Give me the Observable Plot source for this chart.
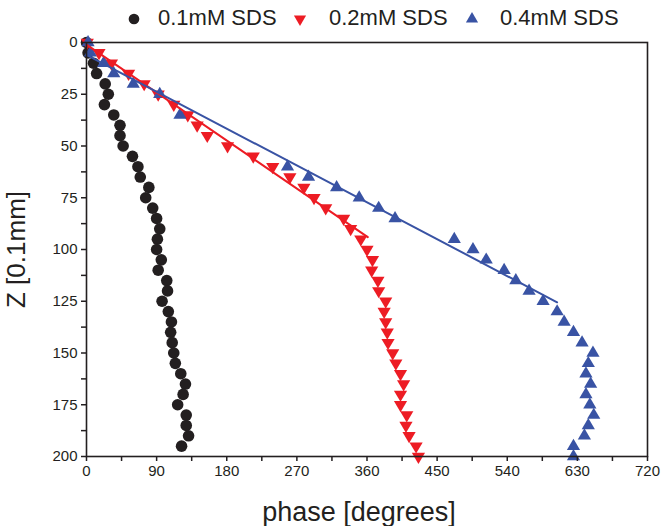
<!DOCTYPE html>
<html><head><meta charset="utf-8">
<script src="https://cdn.jsdelivr.net/npm/d3@7"></script>
<script src="https://cdn.jsdelivr.net/npm/@observablehq/plot@0.6"></script>
<style>
body{margin:0;background:#fff;font-family:"Liberation Sans",Arial,sans-serif;}
#legend{position:relative;height:32px;width:661px;}
.item{position:absolute;top:2px;height:32px;display:flex;align-items:center;font-size:22px;color:#231f20;white-space:nowrap;}
.sym{position:absolute;top:0;}
</style></head><body>
<div id="legend"></div>
<div id="chart"></div>
<script>
// ---- data ----
const seriesNames = ["0.1mM SDS", "0.2mM SDS", "0.4mM SDS"];
const seriesColors = ["#231f20", "#ed1c24", "#3953a4"];

const blackDepth = [0,5,10,15,20,25,30,35,40,45,50,55,60,65,70,75,80,85,90,95,100,105,110,115,120,125,130,135,140,145,150,155,160,165,170,175,180,185,190,195];
const blackPhase = [0,2,9,13,24,28,23,35,43,43,47,59,66,69,80,76,85,90,94,91,90,96,92,103,104,97,105,109,108,110,112,114,121,127,124,117,128,128,131,122];

const redDepth = [0,5,10,15,20,25,30,35,40,45,50,55,60,65,70,75,80,85,90,95,100,105,110,115,120,125,130,135,140,145,150,155,160,165,170,175,180,185,190,195,200];
const redPhase = [1,16,32,54,74,92,112,130,142,155,181,214,239,261,279,292,307,330,339,352,360,367,366,374,375,384,382,384,386,387,393,397,403,407,403,403,411,410,414,423,426];

const blueDepth = [0,5,10,15,20,25,35,60,65,70,75,80,85,95,100,105,110,115,120,125,130,135,140,145,150,155,160,165,170,175,180,185,190,195,200];
const bluePhase = [2,5,22,35,60,94,120,258,285,321,350,375,396,472,496,513,536,551,568,586,604,613,625,636,650,644,641,647,641,646,651,644,639,625,625];

// linear fit endpoints
const redFitPhase = [0, 361];
const redFitDepth = [1, 94];
const blueFitPhase = [0, 604];
const blueFitDepth = [6, 125.5];

const xTicks = [0,45,90,135,180,225,270,315,360,405,450,495,540,585,630,675,720];
const yTicks = [0,12.5,25,37.5,50,62.5,75,87.5,100,112.5,125,137.5,150,162.5,175,187.5,200];

// ---- build rows ----
const rows = (ph, dz) => ph.map((p, i) => ({phase: p, z: dz[i]}));
const blackRows = rows(blackPhase, blackDepth);
const redRows = rows(redPhase, redDepth);
const blueRows = rows(bluePhase, blueDepth);
const redFit = rows(redFitPhase, redFitDepth);
const blueFit = rows(blueFitPhase, blueFitDepth);

// custom triangle symbols
const triUp = {draw(ctx, size) {
  const r = Math.sqrt(size / Math.PI), w = r * 1.18, h = r * 2.0;
  ctx.moveTo(0, -2*h/3); ctx.lineTo(w, h/3); ctx.lineTo(-w, h/3); ctx.closePath();
}};
const triDown = {draw(ctx, size) {
  const r = Math.sqrt(size / Math.PI), w = r * 1.18, h = r * 2.0;
  ctx.moveTo(0, 2*h/3); ctx.lineTo(w, -h/3); ctx.lineTo(-w, -h/3); ctx.closePath();
}};
const symbols = [d3.symbolCircle, triDown, triUp];
const symR = [5.8, 5.6, 5.6];

// ---- legend ----
const legend = d3.select("#legend");
const symX = [134, 300, 472];
const textX = [158, 329, 500];
seriesNames.forEach((name, i) => {
  const s = legend.append("svg").attr("class","sym").attr("width",24).attr("height",36)
    .style("left", (symX[i]-12)+"px");
  s.append("path").attr("transform","translate(12,19)")
    .attr("d", d3.symbol(symbols[i], Math.PI*symR[i]*symR[i]*0.85)()).attr("fill", seriesColors[i]);
  legend.append("div").attr("class","item").style("left", textX[i]+"px").text(name);
});

// ---- chart ----
const chart = Plot.plot({
  width: 661, height: 494,
  marginLeft: 86, marginRight: 14, marginTop: 10, marginBottom: 70,
  x: {domain: [0, 720]},
  y: {domain: [0, 200], reverse: true},
  style: {fontFamily: "'Liberation Sans', Arial, sans-serif", fontSize: "15px", color: "#231f20", background: "white", overflow: "visible"},
  marks: [
    Plot.dot(blackRows, {x: "phase", y: "z", r: symR[0], symbol: d3.symbolCircle, fill: seriesColors[0], stroke: "none"}),
    Plot.dot(redRows, {x: "phase", y: "z", r: symR[1], symbol: triDown, fill: seriesColors[1], stroke: "none"}),
    Plot.dot(blueRows, {x: "phase", y: "z", r: symR[2], symbol: triUp, fill: seriesColors[2], stroke: "none"}),
    Plot.line(redFit, {x: "phase", y: "z", stroke: seriesColors[1], strokeWidth: 2}),
    Plot.line(blueFit, {x: "phase", y: "z", stroke: seriesColors[2], strokeWidth: 2}),
    Plot.frame({stroke: "#231f20", strokeWidth: 1.6}),
    Plot.axisX({ticks: xTicks, tickFormat: d => d % 90 === 0 ? d : "", tickSize: 5, tickPadding: 4, label: null, strokeWidth: 1.5, fontSize: 15}),
    Plot.axisY({ticks: yTicks, tickFormat: d => d % 25 === 0 ? d : "", tickSize: 5, tickPadding: 4, label: null, strokeWidth: 1.5, fontSize: 15}),
    Plot.text(["phase [degrees]"], {frameAnchor: "bottom", textAnchor: "middle", lineAnchor: "middle", dx: -8, dy: 56, fontSize: 27, fill: "#231f20"}),
    Plot.text(["Z [0.1mm]"], {frameAnchor: "left", textAnchor: "middle", lineAnchor: "middle", rotate: -90, dx: -70, fontSize: 26, fill: "#231f20"})
  ]
});
document.getElementById("chart").appendChild(chart);
</script>
</body></html>
